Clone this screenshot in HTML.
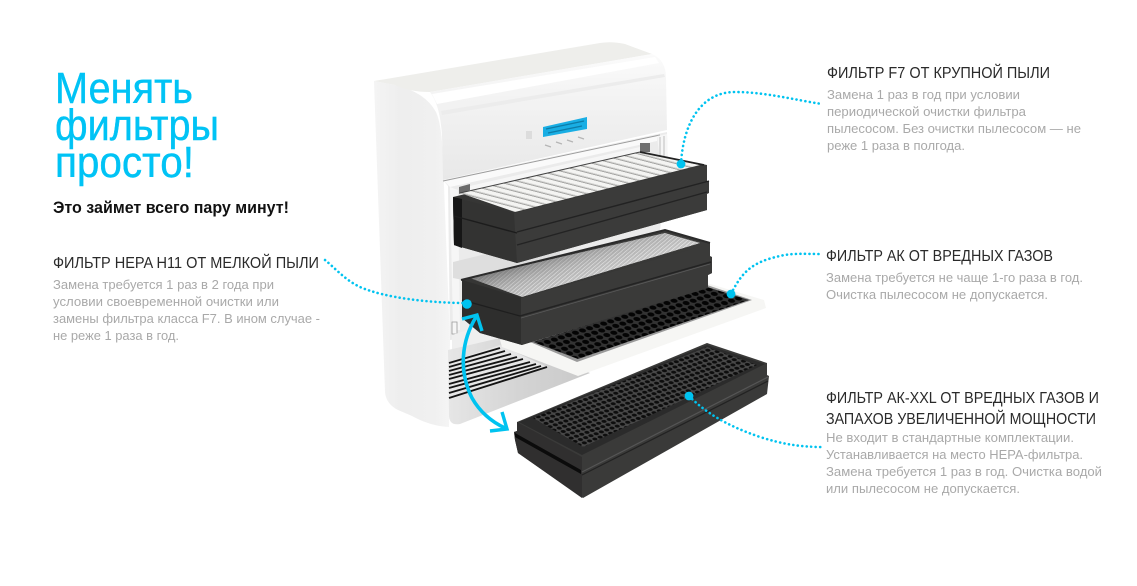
<!DOCTYPE html>
<html><head><meta charset="utf-8"><style>
html,body{margin:0;padding:0;background:#fff;width:1137px;height:586px;overflow:hidden}
svg{display:block}
text{font-family:"Liberation Sans",sans-serif}
.h{font-size:16px;fill:#2a2a2a}
.b{font-size:13px;fill:#a9a9a9}
.t{font-size:44px;fill:#00c3f5;stroke:#00c3f5;stroke-width:.4}
.d{fill:none;stroke:#00c3f0;stroke-width:2.6;stroke-linecap:round;stroke-dasharray:.1 4.4}
</style></head><body>
<svg width="1137" height="586" viewBox="0 0 1137 586">
<defs>
<linearGradient id="side" x1="0" x2="1" y1="0" y2="0"><stop offset="0" stop-color="#f4f4f4"/><stop offset=".35" stop-color="#eeeeee"/><stop offset=".8" stop-color="#f0f0f0"/><stop offset="1" stop-color="#f5f5f5"/></linearGradient>
<linearGradient id="front" x1="0" x2="0" y1="0" y2="1"><stop offset="0" stop-color="#fbfbfb"/><stop offset=".35" stop-color="#f3f3f3"/><stop offset="1" stop-color="#e8e8e8"/></linearGradient>
<linearGradient id="low" x1="0" x2="1" y1="0" y2="0"><stop offset="0" stop-color="#e6e6e6"/><stop offset=".5" stop-color="#d4d4d4"/><stop offset="1" stop-color="#c9c9c9"/></linearGradient>
<linearGradient id="dk" x1="0" x2="0" y1="0" y2="1"><stop offset="0" stop-color="#3c3c3b"/><stop offset="1" stop-color="#2e2e2d"/></linearGradient>
<linearGradient id="fade" gradientUnits="userSpaceOnUse" x1="575" y1="240" x2="590" y2="285"><stop offset="0" stop-color="#4a4a4a" stop-opacity=".75"/><stop offset=".55" stop-color="#999" stop-opacity=".25"/><stop offset="1" stop-color="#fff" stop-opacity=".3"/></linearGradient>
<pattern id="pleat" width="11" height="11" patternUnits="userSpaceOnUse" patternTransform="rotate(-13.5) skewX(62)">
<rect width="11" height="11" fill="#f4f4f2"/><rect width="2" height="11" fill="#a5a5a3"/><rect x="2" width="2" height="11" fill="#d6d6d4"/>
</pattern>
<pattern id="fine" width="2.6" height="6" patternUnits="userSpaceOnUse" patternTransform="rotate(-13) skewX(60)">
<rect width="2.6" height="6" fill="#ececec"/><rect width="1" height="6" fill="#8e8e8e"/>
</pattern>
<pattern id="hc" width="7.4" height="7.4" patternUnits="userSpaceOnUse" patternTransform="rotate(-18) skewX(30) scale(1 .8)">
<rect width="7.4" height="7.4" fill="#333"/><circle cx="3.7" cy="3.7" r="3" fill="#040404"/>
</pattern>
<pattern id="hc2" width="5.6" height="5.6" patternUnits="userSpaceOnUse" patternTransform="rotate(-20) skewX(30) scale(1 .8)">
<rect width="5.6" height="5.6" fill="#484848"/><circle cx="2.8" cy="2.8" r="2.2" fill="#0d0d0d"/>
</pattern>
</defs>

<!-- Unit side -->
<path d="M374 81 L395 85 Q425 92 436 112 Q442 125 443 160 L450 340 L449 427 Q430 426 412 416 L398 410 Q386 404 385 392 Z" fill="url(#side)"/>
<!-- Cap and front -->
<path d="M374 81 L600 43 Q612 41 625 44 L652 54 L430 92 Q410 92 395 85 Z" fill="#eeeeeb"/>
<path d="M430 92 L652 54 Q666 60 666 78 L667 130 L443 180 L442 135 Q440 105 430 92 Z" fill="url(#front)"/>
<path d="M432 94 L655 57 L659 63 L437 104 Z" fill="#ffffff"/>
<path d="M441 111 L664 74 L665 77 L442 115 Z" fill="#ececec"/>
<!-- display -->
<path d="M543 127 L587 117 L587 129 L543 137 Z" fill="#19aee4"/>
<path d="M546 129 L584 121 M548 133 L582 126" stroke="#0d7ca8" stroke-width="1.3" fill="none"/>
<rect x="526" y="131" width="6" height="8" fill="#dcdcdc"/>
<path d="M545 145l6 2M556 142l6 2M567 140l6 2M578 137l6 2" stroke="#b5b5b5" stroke-width="1.2"/>
<!-- opening frame -->
<path d="M443 180 L667 132 L668 170 L660 230 L700 260 L560 330 L450 340 L448 186 Z" fill="#ebebeb"/>
<path d="M443 180 L657 135 L657 141 L450 187 Z" fill="#fafafa"/>
<path d="M443 181 L660 135" stroke="#9b9b9b" stroke-width="1" fill="none"/>
<path d="M470 186 L640 147 L640 153 L468 193 Z" fill="#f6f6f6"/>
<rect x="640" y="143" width="10" height="9" fill="#6f6f6f"/>
<path d="M657 136 L667 134 L668 162 L660 160 Z" fill="#f6f6f6"/>
<path d="M660 137 V160 M664 136 V162" stroke="#bdbdbd" stroke-width="1"/>
<path d="M470 184 L459 187 L459 194 L470 190 Z" fill="#6a6a6a"/>
<path d="M450 187 L453 330 L460 330 L458 190 Z" fill="#f6f6f6"/>
<path d="M453 262 L560 236 L560 264 L463 280 L453 278 Z" fill="#dedede"/>
<path d="M452 322 h5 v12 h-5 z" fill="#f6f6f6" stroke="#999" stroke-width=".8"/>
<path d="M452 335 L500 320 L500 340 L452 352 Z" fill="#efefef"/>
<!-- lower section -->
<path d="M448 350 L500 338 L590 373 L460 424 Q449 426 449 415 Z" fill="url(#low)"/>
<path d="M449 362 L500 345 L547 367 L449 400 Z" fill="#e6e6e6"/>
<g stroke="#141414" stroke-width="1.9" fill="none">
<path d="M449 363 L500 348"/><path d="M449 367 L505 351"/><path d="M449 371 L511 354"/><path d="M449 375 L517 357"/><path d="M449 379 L523 359"/><path d="M449 384 L530 362"/><path d="M449 388 L536 364"/><path d="M449 393 L541 366"/><path d="M449 398 L547 367"/>
</g>

<!-- Filter 1 -->
<path d="M453 197 L640 152 L707 165 L707 210 L517 263 L454 245 Z" fill="url(#dk)"/>
<path d="M453 197 L517 214 L517 263 L454 245 Z" fill="#333332"/>
<path d="M453 197 L462 199 L462 248 L454 245 Z" fill="#161616"/>
<path d="M460 193 L640 152 L700 165 L515 212 Z" fill="url(#pleat)"/>
<path d="M640 152 L704 165" fill="none" stroke="#222" stroke-width="1.8"/>
<path d="M460 193 L640 152" fill="none" stroke="#444" stroke-width="1"/>
<path d="M514 213 L707 165 L707 181 L709 181 L709 193 L707 194 L707 210 L517 263 Z" fill="#3b3b3a"/>
<path d="M517 245 L707 192" stroke="#232323" stroke-width="1.4" fill="none"/>
<path d="M517 232 L709 181" stroke="#222" stroke-width="1.4" fill="none"/>
<path d="M454 216 L517 233" stroke="#1c1c1c" stroke-width="1.4" fill="none"/>

<!-- Tray -->
<path d="M500 340 L707 283 L764 300 L766 308 L578 376 L502 347 Z" fill="#f6f6f4"/>
<path d="M530 342 L707 285 L752 300 L577 362 Z" fill="#9a9a9a"/>
<path d="M533 342 L707 287 L749 300 L578 359 Z" fill="url(#hc)"/>

<!-- Filter 2 -->
<path d="M462 280 L667 230 L710 243 L710 256 L712 257 L712 273 L708 275 L708 288 L522 345 L480 333 L462 318 Z" fill="url(#dk)"/>
<path d="M462 280 L522 298 L522 345 L480 333 L462 318 Z" fill="#2e2e2d"/>
<path d="M470 278 L665 233 L700 243 L522 297 Z" fill="url(#fine)"/>
<path d="M470 278 L665 233 L700 243 L522 297 Z" fill="url(#fade)"/>
<path d="M461 280 L665 230 L710 243" fill="none" stroke="#2b2b2b" stroke-width="2"/>
<path d="M521 298 L710 244 L710 257 L712 258 L712 273 L708 275 L708 288 L521 345 Z" fill="#3a3a39"/>
<path d="M520 316 L711 262" stroke="#232323" stroke-width="1.5" fill="none"/>
<path d="M521 318 L710 264" stroke="#5a5a5a" stroke-width=".8" fill="none"/>
<path d="M462 300 L520 316" stroke="#1e1e1e" stroke-width="1.2" fill="none"/>

<!-- Filter 3 -->
<path d="M517 422 L707 343 L767 363 L767 375 L769 376 L768 385 L767 394 L583 498 L518 453 L515 440 L514 432 L517 431 Z" fill="#3a3a39"/>
<path d="M517 422 L582 457 L582 498 L518 453 L515 440 L514 432 L517 431 Z" fill="#302f2f"/>
<path d="M519 422 L707 345 L765 364 L582 455 Z" fill="#2b2b2b"/>
<path d="M533 418 L707 347 L757 365 L583 447 Z" fill="url(#hc2)"/>
<path d="M515 433 L581 470 L581 474 L515 437 Z" fill="#0b0b0b"/>
<path d="M582 472 L768 377" stroke="#555" stroke-width="1.2" fill="none"/>
<path d="M582 475 L768 381" stroke="#222" stroke-width="1.2" fill="none"/>

<!-- Dotted leaders -->
<path class="d" d="M681 164 C 683 125, 700 92, 735 92 C 765 92, 795 100, 822 104"/>
<path class="d" d="M731 294 C 742 272, 752 262, 780 256 C 792 253, 805 254, 820 254"/>
<path class="d" d="M467 303 C 430 303, 385 298, 360 287 C 345 280, 335 268, 325 260"/>
<path class="d" d="M689 396 C 705 412, 725 425, 760 437 C 782 444, 800 447, 822 447"/>
<circle cx="681" cy="164" r="4.4" fill="#00c3f0"/>
<circle cx="731" cy="294" r="4.4" fill="#00c3f0"/>
<circle cx="467" cy="304" r="4.8" fill="#00c3f0"/>
<circle cx="689" cy="396" r="4.4" fill="#00c3f0"/>

<!-- Curved arrow -->
<path d="M476 317 C 462 340, 458 370, 472 398 C 480 412, 492 422, 505 428" fill="none" stroke="#00c3f0" stroke-width="3.6"/>
<path d="M462 319 L477 315 L482 331" fill="none" stroke="#00c3f0" stroke-width="3.4"/>
<path d="M502 412 L507 429 L490 431" fill="none" stroke="#00c3f0" stroke-width="3.4"/>

<!-- Left text -->
<text class="t" x="55" y="103" textLength="138" lengthAdjust="spacingAndGlyphs">Менять</text>
<text class="t" x="55" y="140" textLength="164" lengthAdjust="spacingAndGlyphs">фильтры</text>
<text class="t" x="55" y="177" textLength="139" lengthAdjust="spacingAndGlyphs">просто!</text>
<text x="53" y="213" font-size="17" font-weight="700" fill="#111" textLength="236" lengthAdjust="spacingAndGlyphs">Это займет всего пару минут!</text>
<text class="h" x="53" y="268" textLength="266" lengthAdjust="spacingAndGlyphs">ФИЛЬТР HEPA H11 ОТ МЕЛКОЙ ПЫЛИ</text>
<text class="b" x="53" y="289" textLength="221" lengthAdjust="spacingAndGlyphs">Замена требуется 1 раз в 2 года при</text>
<text class="b" x="53" y="306" textLength="226" lengthAdjust="spacingAndGlyphs">условии своевременной очистки или</text>
<text class="b" x="53" y="323" textLength="267" lengthAdjust="spacingAndGlyphs">замены фильтра класса F7. В ином случае -</text>
<text class="b" x="53" y="340" textLength="126" lengthAdjust="spacingAndGlyphs">не реже 1 раза в год.</text>

<!-- Right text -->
<text class="h" x="827" y="78" textLength="223" lengthAdjust="spacingAndGlyphs">ФИЛЬТР F7 ОТ КРУПНОЙ ПЫЛИ</text>
<text class="b" x="827" y="99" textLength="193" lengthAdjust="spacingAndGlyphs">Замена 1 раз в год при условии</text>
<text class="b" x="827" y="116" textLength="199" lengthAdjust="spacingAndGlyphs">периодической очистки фильтра</text>
<text class="b" x="827" y="133" textLength="254" lengthAdjust="spacingAndGlyphs">пылесосом. Без очистки пылесосом — не</text>
<text class="b" x="827" y="150" textLength="138" lengthAdjust="spacingAndGlyphs">реже 1 раза в полгода.</text>

<text class="h" x="826" y="261" textLength="227" lengthAdjust="spacingAndGlyphs">ФИЛЬТР АК ОТ ВРЕДНЫХ ГАЗОВ</text>
<text class="b" x="826" y="282" textLength="257" lengthAdjust="spacingAndGlyphs">Замена требуется не чаще 1-го раза в год.</text>
<text class="b" x="826" y="299" textLength="222" lengthAdjust="spacingAndGlyphs">Очистка пылесосом не допускается.</text>

<text class="h" x="826" y="403" textLength="273" lengthAdjust="spacingAndGlyphs">ФИЛЬТР АК-XXL ОТ ВРЕДНЫХ ГАЗОВ И</text>
<text class="h" x="826" y="424" textLength="270" lengthAdjust="spacingAndGlyphs">ЗАПАХОВ УВЕЛИЧЕННОЙ МОЩНОСТИ</text>
<text class="b" x="826" y="442" textLength="248" lengthAdjust="spacingAndGlyphs">Не входит в стандартные комплектации.</text>
<text class="b" x="826" y="459" textLength="257" lengthAdjust="spacingAndGlyphs">Устанавливается на место HEPA-фильтра.</text>
<text class="b" x="826" y="476" textLength="276" lengthAdjust="spacingAndGlyphs">Замена требуется 1 раз в год. Очистка водой</text>
<text class="b" x="826" y="493" textLength="194" lengthAdjust="spacingAndGlyphs">или пылесосом не допускается.</text>
</svg>
</body></html>
